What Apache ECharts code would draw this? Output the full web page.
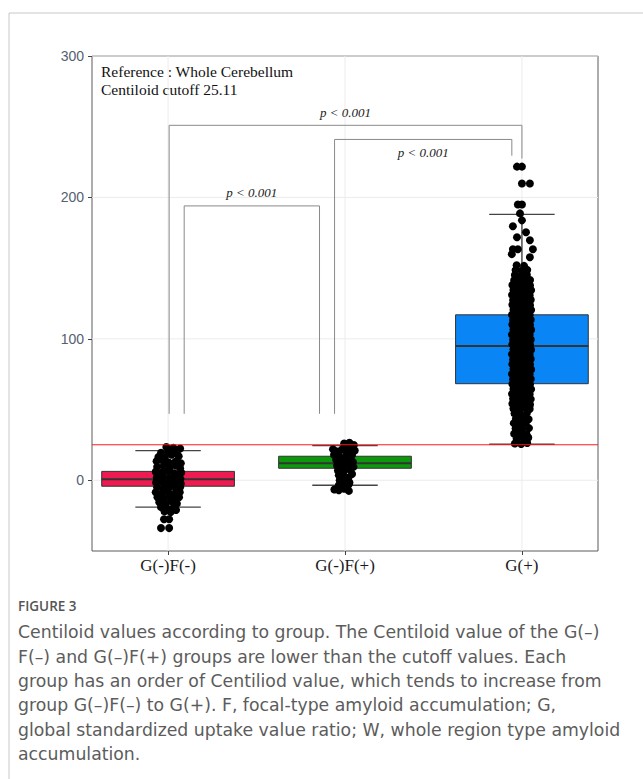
<!DOCTYPE html>
<html>
<head>
<meta charset="utf-8">
<script src="https://cdn.jsdelivr.net/npm/echarts@6/dist/echarts.min.js"></script>
<style>
  html, body { margin: 0; padding: 0; background: #fff; }
  #chart { width: 643px; height: 779px; }
</style>
</head>
<body>
<div id="chart"></div>
<script>
const categories = ['G(-)F(-)', 'G(-)F(+)', 'G(+)'];
// [lower whisker, Q1, median, Q3, upper whisker]
const boxStats = [
  [-19, -4.2, 0.7, 6.3, 21],
  [-3.5, 8.5, 12, 17, 24.5],
  [25.5, 68.3, 95, 117, 188],
];
const cutoff = 25.11;
const yTicks = [0, 100, 200, 300];
const xTicks = [1, 2, 3];

// jittered points: [offset from group centre, centiloid]
const ptsGFneg = [
  [-0.010, 23.5], [0.030, 23.0], [0.068, 22.5], [0.050, 20.5], [-0.040, 19.5], [0.000, 20.0],
  [0.020, 18.0], [-0.055, 16.5], [0.060, 17.0], [-0.020, 16.0],
  [-0.065, 13.5], [-0.030, 14.0], [0.005, 12.5], [0.040, 13.0], [0.072, 12.0],
  [-0.062, 9.5], [-0.025, 10.0], [0.010, 9.0], [0.045, 10.5], [0.068, 8.5],
  [-0.070, 6.0], [-0.035, 5.5], [0.000, 6.5], [0.035, 5.0], [0.074, 5.5],
  [-0.064, 2.0], [-0.028, 2.5], [0.008, 1.5], [0.042, 3.0], [0.070, 1.0],
  [-0.068, -1.5], [-0.032, -1.0], [0.002, -2.0], [0.038, -1.5], [0.072, -2.5],
  [-0.062, -5.0], [-0.026, -5.5], [0.012, -4.5], [0.046, -6.0], [0.068, -5.0],
  [-0.070, -8.5], [-0.034, -9.0], [0.000, -8.0], [0.036, -9.5], [0.066, -8.5],
  [-0.060, -12.0], [-0.024, -12.5], [0.010, -11.5], [0.044, -13.0], [0.062, -12.0],
  [-0.050, -15.5], [-0.015, -16.0], [0.020, -15.0], [0.050, -16.5],
  [-0.040, -19.0], [-0.005, -20.0], [0.030, -19.5], [0.045, -21.0], [-0.020, -22.0], [0.015, -22.5],
  [-0.023, -27.5], [0.006, -27.5], [-0.040, -33.8], [0.006, -33.8],
];
const ptsGFpos = [
  [-0.005, 26.0], [0.025, 26.5], [0.050, 25.0], [0.010, 24.0],
  [-0.068, 22.0], [-0.050, 20.5], [-0.020, 21.5], [0.030, 22.5], [0.055, 21.0], [0.010, 19.5],
  [-0.062, 18.0], [-0.035, 17.0], [0.040, 18.0], [0.000, 16.5],
  [-0.050, 14.5], [-0.020, 13.5], [0.015, 14.0], [0.045, 13.0],
  [-0.045, 10.5], [-0.010, 10.0], [0.025, 11.0], [0.048, 9.5],
  [-0.040, 7.0], [-0.005, 6.5], [0.030, 7.5], [0.040, 4.5],
  [-0.035, 3.5], [-0.010, 3.0], [0.020, 2.0],
  [-0.030, 0.0], [0.000, -0.5], [0.025, -1.5],
  [-0.035, -3.5], [-0.005, -4.0], [0.020, -3.0],
  [-0.060, -6.5], [-0.035, -7.0], [-0.005, -6.0], [0.022, -7.5],
];
const ptsG = [
  [-0.040, 26.0], [-0.004, 25.6], [0.030, 26.4],
  [-0.030, 29.3], [0.008, 29.8], [0.036, 30.2],
  [-0.044, 32.9], [-0.010, 33.4], [0.026, 32.6],
  [-0.036, 36.7], [0.002, 36.2], [0.040, 36.9],
  [-0.046, 40.4], [-0.012, 39.8], [0.022, 40.6],
  [-0.034, 43.6], [0.004, 44.1], [0.038, 43.2],
  [-0.042, 47.3], [-0.008, 46.8], [0.028, 47.5],
  [-0.048, 50.8], [-0.014, 50.2], [0.020, 51.0], [0.044, 50.4],
  [-0.054, 54.2], [-0.020, 53.8], [0.014, 54.5], [0.046, 53.6],
  [-0.050, 57.7], [-0.016, 57.2], [0.018, 57.9], [0.050, 57.4],
  [-0.056, 61.1], [-0.022, 60.6], [0.012, 61.4], [0.044, 60.8],
  [-0.048, 64.6], [-0.014, 64.2], [0.020, 64.9], [0.052, 64.4],
  [-0.054, 68.1], [-0.020, 67.6], [0.014, 68.3], [0.046, 67.9],
  [-0.050, 71.4], [-0.016, 71.8], [0.018, 71.2], [0.050, 71.7],
  [-0.056, 75.2], [-0.022, 74.8], [0.012, 75.4], [0.044, 74.9],
  [-0.048, 78.6], [-0.014, 78.2], [0.020, 78.9], [0.052, 78.4],
  [-0.054, 82.1], [-0.020, 81.7], [0.014, 82.4], [0.046, 81.9],
  [-0.050, 85.4], [-0.016, 85.8], [0.018, 85.2], [0.050, 85.7],
  [-0.056, 89.1], [-0.022, 88.7], [0.012, 89.3], [0.044, 88.9],
  [-0.048, 92.6], [-0.014, 92.2], [0.020, 92.8], [0.052, 92.4],
  [-0.054, 96.1], [-0.020, 95.7], [0.014, 96.3], [0.046, 95.8],
  [-0.050, 99.4], [-0.016, 99.8], [0.018, 99.2], [0.050, 99.6],
  [-0.056, 103.1], [-0.022, 102.7], [0.012, 103.3], [0.044, 102.9],
  [-0.048, 106.6], [-0.014, 106.2], [0.020, 106.8], [0.052, 106.4],
  [-0.054, 110.1], [-0.020, 109.7], [0.014, 110.3], [0.046, 109.8],
  [-0.050, 113.4], [-0.016, 113.8], [0.018, 113.2], [0.050, 113.6],
  [-0.056, 117.1], [-0.022, 116.7], [0.012, 117.3], [0.044, 116.9],
  [-0.048, 120.6], [-0.014, 120.2], [0.020, 120.8], [0.052, 120.4],
  [-0.054, 124.1], [-0.020, 123.7], [0.014, 124.3], [0.046, 123.8],
  [-0.050, 127.4], [-0.016, 127.8], [0.018, 127.2], [0.050, 127.6],
  [-0.056, 131.1], [-0.022, 130.7], [0.012, 131.3], [0.044, 130.9],
  [-0.048, 134.6], [-0.014, 134.2], [0.020, 134.8], [0.052, 134.4],
  [-0.054, 138.1], [-0.020, 137.7], [0.014, 138.3], [0.046, 137.8],
  [-0.044, 141.4], [-0.010, 141.8], [0.024, 141.2], [0.046, 141.6],
  [-0.040, 145.1], [-0.006, 144.7], [0.028, 145.3],
  [-0.036, 148.6], [0.000, 148.2], [0.030, 148.8],
  [-0.030, 152.0], [0.012, 151.6],
  [-0.057, 159.9], [0.045, 157.7], [-0.051, 163.4], [-0.023, 163.4], [0.062, 163.4],
  [0.045, 169.7], [-0.028, 171.8], [0.023, 175.4], [-0.051, 179.6], [0.000, 183.8],
  [-0.011, 188.7], [-0.023, 195.0], [0.000, 195.0], [0.000, 209.9], [0.045, 209.9],
  [-0.028, 221.8], [0.000, 221.8],
];

// significance brackets
const bracketFrom = [1.091, 1.941, 1.006];
const bracketTo = [1.856, 2.943, 3.0];
const bracketTop = [194, 241, 251];
const bracketLegFrom = [47, 47, 47];
const bracketLegTo = [47, 229.5, 227.5];
const bracketText = ['p < 0.001', 'p < 0.001', 'p < 0.001'];
const bracketTextBelow = [false, true, false];

const BOX_COLORS = ['#EE1B50', '#0B990B', '#0A85F5'];
const SERIF = "'Liberation Serif', 'Times New Roman', serif";
const CAPTION_FONT = "'DejaVu Sans', 'Open Sans', sans-serif";

const captionLines = [
  'Centiloid values according to group. The Centiloid value of the G(\u2013)',
  'F(\u2013) and G(\u2013)F(+) groups are lower than the cutoff values. Each',
  'group has an order of Centiliod value, which tends to increase from',
  'group G(\u2013)F(\u2013) to G(+). F, focal-type amyloid accumulation; G,',
  'global standardized uptake value ratio; W, whole region type amyloid',
  'accumulation.',
];

const chart = echarts.init(document.getElementById('chart'), null, { renderer: 'svg' });

function hLine(x1, x2, y, style) {
  return { type: 'line', shape: { x1, y1: y, x2, y2: y }, style };
}
function vLine(x, y1, y2, style) {
  return { type: 'line', shape: { x1: x, y1, x2: x, y2 }, style };
}

function renderBox(params, api) {
  const x = api.value(0);
  const c = api.coord([x, api.value(3)]);
  const cx = c[0];
  const yLow = api.coord([x, api.value(1)])[1];
  const yQ1 = api.coord([x, api.value(2)])[1];
  const yMed = c[1];
  const yQ3 = api.coord([x, api.value(4)])[1];
  const yHigh = api.coord([x, api.value(5)])[1];
  const hw = api.size([0.375, 0])[0];
  const cap = api.size([0.185, 0])[0];
  const wStyle = { stroke: '#444', lineWidth: 1.4 };
  return {
    type: 'group',
    children: [
      vLine(cx, yLow, yHigh, wStyle),
      hLine(cx - cap, cx + cap, yLow, wStyle),
      hLine(cx - cap, cx + cap, yHigh, wStyle),
      {
        type: 'rect',
        shape: { x: cx - hw, y: yQ3, width: hw * 2, height: yQ1 - yQ3 },
        style: { fill: BOX_COLORS[params.dataIndex], stroke: '#333', lineWidth: 1 },
      },
      hLine(cx - hw, cx + hw, yMed, { stroke: '#333', lineWidth: 2 }),
    ],
  };
}

function renderBracket(params, api) {
  const a = api.coord([api.value(0), api.value(2)]);
  const b = api.coord([api.value(1), api.value(2)]);
  const aLow = api.coord([api.value(0), api.value(3)]);
  const bLow = api.coord([api.value(1), api.value(4)]);
  const below = bracketTextBelow[params.dataIndex];
  return {
    type: 'group',
    children: [
      {
        type: 'polyline',
        shape: { points: [aLow, a, b, bLow] },
        style: { stroke: '#8a8a8a', lineWidth: 1, fill: 'none' },
      },
      {
        type: 'text',
        x: (a[0] + b[0]) / 2,
        y: a[1] + (below ? 13 : -13),
        style: {
          text: bracketText[params.dataIndex],
          font: 'italic 13px ' + SERIF,
          fill: '#222',
          align: 'center',
          verticalAlign: 'middle',
        },
      },
    ],
  };
}

function gridLines(params, api) {
  const cs = params.coordSys;
  const style = { stroke: '#ececec', lineWidth: 1 };
  if (api.value(0) === 0) {
    const y = api.coord([1, api.value(1)])[1];
    return hLine(cs.x, cs.x + cs.width, y, style);
  }
  const x = api.coord([api.value(1), 0])[0];
  return vLine(x, cs.y, cs.y + cs.height, style);
}

function cutoffLine(params, api) {
  const cs = params.coordSys;
  const y = api.coord([1, api.value(0)])[1];
  return hLine(cs.x, cs.x + cs.width, y, { stroke: '#ff1a1a', lineWidth: 1 });
}

const groups = [ptsGFneg, ptsGFpos, ptsG];

chart.setOption({
  animation: false,
  backgroundColor: '#fff',
  grid: {
    left: 92, right: 45, top: 56, bottom: 228,
    show: true, borderColor: '#5a5a5a', borderWidth: 1, backgroundColor: 'transparent',
  },
  xAxis: {
    type: 'value', min: 0.57, max: 3.43,
    axisLine: { show: false, onZero: false },
    splitLine: { show: false },
    axisTick: { show: true, customValues: xTicks, length: 4, lineStyle: { color: '#444' } },
    axisLabel: {
      customValues: xTicks,
      formatter: (v) => categories[Math.round(v) - 1],
      fontFamily: SERIF, fontSize: 17, color: '#1a1a1a', margin: 6,
    },
  },
  yAxis: {
    type: 'value', min: -50, max: 300,
    axisLine: { show: false, onZero: false },
    splitLine: { show: false },
    axisTick: { show: true, customValues: yTicks, length: 4, lineStyle: { color: '#444' } },
    axisLabel: {
      customValues: yTicks,
      fontFamily: "'Liberation Sans', Arial, sans-serif", fontSize: 14, color: '#556070', margin: 8,
    },
  },
  series: [
    {
      type: 'custom', silent: true, z: 0,
      data: yTicks.map((v) => [0, v]).concat(xTicks.map((v) => [1, v])),
      renderItem: gridLines,
    },
    {
      type: 'custom', silent: true, z: 2,
      data: boxStats.map((s, i) => [xTicks[i]].concat(s)),
      renderItem: renderBox,
    },
    ...groups.map((pts, i) => ({
      type: 'scatter', silent: true, z: 3,
      symbolSize: 8,
      itemStyle: { color: '#000', opacity: 1 },
      data: pts.map((p) => [xTicks[i] + p[0], p[1]]),
    })),
    {
      type: 'custom', silent: true, z: 4,
      data: [[cutoff]],
      renderItem: cutoffLine,
    },
    {
      type: 'custom', silent: true, z: 4,
      data: bracketFrom.map((f, i) => [f, bracketTo[i], bracketTop[i], bracketLegFrom[i], bracketLegTo[i]]),
      renderItem: renderBracket,
    },
  ],
  graphic: [
    {
      type: 'rect', silent: true, z: -1,
      shape: { x: 9, y: 13, width: 700, height: 800 },
      style: { fill: 'none', stroke: '#c8c8c8', lineWidth: 1 },
    },
    {
      type: 'text', left: 101, top: 62, silent: true,
      style: {
        text: 'Reference : Whole Cerebellum\nCentiloid cutoff 25.11',
        font: '15.5px ' + SERIF, fill: '#111', lineHeight: 18.5,
      },
    },
    {
      type: 'text', left: 18, top: 599, silent: true,
      style: {
        text: 'FIGURE 3',
        font: '600 13.5px "Open Sans", sans-serif', fill: '#555',
      },
    },
    {
      type: 'text', left: 18, top: 620, silent: true,
      style: {
        text: captionLines.join('\n'),
        font: '17.3px ' + CAPTION_FONT, fill: '#5c5c5c', lineHeight: 24.4,
      },
    },
  ],
});
</script>
</body>
</html>
